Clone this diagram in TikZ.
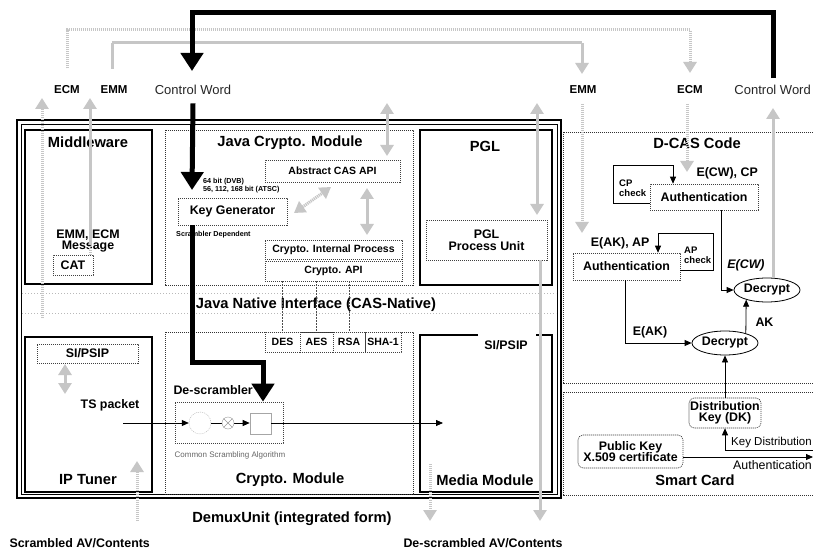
\documentclass[tikz,border=0pt]{standalone}
\usepackage{fontspec}
\setmainfont{Liberation Sans}
\usetikzlibrary{arrows.meta, shapes.geometric, positioning, calc}

\begin{document}
\begin{tikzpicture}[x=1pt, y=-1pt, >=Stealth,
    title/.style={font=\fontsize{14.7}{17}\selectfont\bfseries},
    lbl/.style={font=\fontsize{12.4}{14}\selectfont\bfseries, align=center},
    jlbl/.style={font=\fontsize{10.5}{12}\selectfont\bfseries},
    side/.style={font=\fontsize{11.5}{13}\selectfont\bfseries},
    plain/.style={font=\fontsize{12.4}{14}\selectfont},
    tinytext/.style={font=\fontsize{7.2}{7.8}\selectfont\bfseries, align=left, inner sep=0pt},
    chk/.style={font=\fontsize{9.5}{10}\selectfont\bfseries, align=left, inner sep=0pt},
    dbox/.style={draw=black!75, dash pattern=on 1.2pt off 0.8pt, line width=0.6pt, inner sep=0pt},
    frame/.style={draw=black!80, dash pattern=on 1.2pt off 0.8pt, line width=0.9pt},
    rbox/.style={dbox, rounded corners=5pt},
    modline/.style={line width=1.8pt},
    cwarrow/.style={line width=5pt, -{Triangle[width=22pt,length=18pt]}},
    flow/.style={line width=0.8pt, -{Triangle[width=6pt,length=7pt]}},
    graypath/.style={gray!45, line width=3pt, dash pattern=on 1.2pt off 0.8pt},
    grayarrow/.style={graypath, -{Triangle[width=13pt,length=11pt]}},
    graybi/.style={graypath, {Triangle[width=13pt,length=11pt]}-{Triangle[width=13pt,length=11pt]}}]

  \fill[white] (0,0) rectangle (813,553);
  \useasboundingbox (0,0) rectangle (813,553);

  % --- DemuxUnit frame (double line) ---
  \draw[line width=1.3pt] (17,120) rectangle (561,498);
  \draw[line width=0.6pt] (21,124) rectangle (557,494);

  % --- Java Native Interface band ---
  \draw[gray!55, dash pattern=on 1pt off 2pt, line width=0.7pt] (22,293) -- (556,293) (22,313) -- (556,313);
  \node[title] (jni) at (316,305) {Java Native Interface (CAS-Native)};

  % --- Module frames ---
  \draw[modline] (25,130) rectangle (152,284);
  \draw[frame] (165,130) rectangle (413,285);
  \draw[modline] (420,130) rectangle (552,285);
  \draw[modline] (25,337) rectangle (152,492);
  \draw[frame] (165,332) rectangle (413,494);
  \draw[modline] (478,335) -- (420,335) -- (420,492) -- (552,492) -- (552,335) -- (536,335);
  \draw[frame] (563,132) rectangle (830,383);
  \draw[frame] (563,392) rectangle (830,495);

  \node[title] (mwT) at (88,142) {Middleware};
  \node[title] (jcmT) at (290,143) {Java Crypto. Module};
  \node[title] (pglT) at (485,146) {PGL};
  \node[title] (ipT) at (88,480) {IP Tuner};
  \node[title] (cmT) at (290,480) {Crypto. Module};
  \node[title] (mmT) at (485,480) {Media Module};
  \node[title] (dcasT) at (697,143) {D-CAS Code};
  \node[title] (scT) at (695,480) {Smart Card};

  % --- Middleware / IP Tuner contents ---
  \node[lbl] (msg) at (88,241) {EMM, ECM\\[-3pt]Message};
  \node[dbox, lbl, minimum width=40pt, minimum height=20pt] (cat) at (73,265) {CAT};
  \node[dbox, lbl, minimum width=101pt, minimum height=19pt] (sipsip) at (87.5,353.5) {SI/PSIP};
  \node[lbl] (ts) at (110,405) {TS packet};

  % --- Java Crypto. Module contents ---
  \node[dbox, lbl, minimum width=109pt, minimum height=27pt] (keygen) at (232.5,211.5) {Key Generator};
  \node[dbox, jlbl, minimum width=135pt, minimum height=22pt] (absapi) at (332.5,171) {Abstract CAS API};
  \node[dbox, jlbl, minimum width=137pt, minimum height=19pt] (cip) at (333.5,249.5) {Crypto. Internal Process};
  \node[dbox, jlbl, minimum width=137pt, minimum height=20pt] (capi) at (333.5,271) {Crypto. API};
  \node[tinytext, anchor=south west] (bits) at (203,193) {64 bit (DVB)\\56, 112, 168 bit (ATSC)};
  \node[tinytext, anchor=north west] (scdep) at (176,231) {Scrambler Dependent};

  % --- Native algorithms ---
  \node[dbox, jlbl, minimum width=35pt, minimum height=20pt] (des) at (282.5,342) {DES};
  \node[dbox, jlbl, minimum width=33pt, minimum height=20pt] (aes) at (316.5,342) {AES};
  \node[dbox, jlbl, minimum width=32pt, minimum height=20pt] (rsa) at (349,342) {RSA};
  \node[dbox, jlbl, minimum width=36pt, minimum height=20pt] (sha) at (383,342) {SHA-1};
  \foreach \alg in {des, aes, rsa}
    \draw[black!70, dash pattern=on 1.5pt off 1.5pt, line width=0.5pt] (capi.south -| \alg.north) -- (\alg.north);

  % --- De-scrambler ---
  \node[lbl, anchor=west] (desc) at (170,390) {De-scrambler};
  \node[dbox, minimum width=108pt, minimum height=41pt] (csa) at (229,422.5) {};
  \node[draw=gray!60, dash pattern=on 1pt off 1pt, circle, minimum size=22pt, inner sep=0pt] (scr) at (200,423) {};
  \node[draw=gray!70, line width=0.6pt, minimum width=21pt, minimum height=21pt, inner sep=0pt] (sq) at (260.5,423.5) {};
  \node[font=\fontsize{8}{9}\selectfont, text=gray!80!black] (csaT) at (230,455) {Common Scrambling Algorithm};
  \coordinate (tsout) at (123,423);
  \coordinate (avout) at (443,423);
  \draw[flow] (tsout) -- (scr.west);
  \draw[flow] (scr.east) -- (sq.west |- scr.east);
  \node[draw=gray!80, fill=white, circle, minimum size=12pt, inner sep=0pt] (xor) at (228,423) {};
  \draw[gray!80, line width=0.5pt] (xor.45) -- (xor.225) (xor.135) -- (xor.315);
  \draw[flow] (sq.east |- avout) -- (avout);

  % --- Media Module label ---
  \node[lbl] (mmsi) at (506,345) {SI/PSIP};
  \node[lbl, minimum width=121pt, minimum height=40pt, dbox] (pgu) at (486.5,240) {PGL\\[-2pt]Process Unit};

  % --- D-CAS Code contents ---
  \node[dbox, lbl, minimum width=108pt, minimum height=26pt] (auth1) at (704,197) {Authentication};
  \node[dbox, lbl, minimum width=107pt, minimum height=27pt] (auth2) at (626.5,266.5) {Authentication};
  \node[ellipse, draw, line width=0.8pt, lbl, minimum width=66pt, minimum height=24pt, inner sep=0pt] (dec1) at (767,290) {Decrypt};
  \node[ellipse, draw, line width=0.8pt, lbl, minimum width=66pt, minimum height=24pt, inner sep=0pt] (dec2) at (725,343) {Decrypt};
  \node[lbl, anchor=west] (ecwcp) at (693,173) {E(CW), CP};
  \node[lbl, anchor=east] (eakap) at (653,243) {E(AK), AP};
  \node[chk, anchor=north west] (cpchk) at (619,180) {CP\\check};
  \node[chk, anchor=north west] (apchk) at (684,247) {AP\\check};
  \node[lbl, font=\fontsize{12.4}{14}\selectfont\bfseries\itshape] (ecw) at (746,265) {E(CW)};
  \node[lbl] (eak) at (650,332) {E(AK)};
  \node[lbl, anchor=west] (ak) at (752,322) {AK};

  \draw[flow] (auth1.west |- 0,203) -- (613,203) |- (673,165) -- (auth1.north -| 673,0);
  \draw[flow] (auth2.east |- 0,270) -- (713,270) |- (658,233) -- (auth2.north -| 658,0);
  \draw[flow] (auth1.south -| 721,0) |- (dec1.west);
  \draw[flow] (auth2.south -| 625,0) |- (dec2.west);
  \draw[flow] (dec2.25) -- (dec1.-155);

  % --- Smart Card contents ---
  \node[rbox, lbl, minimum width=72pt, minimum height=30pt] (dk) at (725,413) {Distribution\\[-3pt]Key (DK)};
  \node[rbox, lbl, minimum width=105pt, minimum height=33pt] (pk) at (630.5,451.5) {Public Key\\[-3pt]X.509 certificate};
  \coordinate (kdin) at (813,450);
  \coordinate (authout) at (813,457);
  \draw[flow] (dk.north) -- (dec2.south);
  \draw[flow] (kdin) -| (dk.south);
  \draw[flow] (pk.east |- authout) -- (authout);
  \node[plain, font=\fontsize{11.5}{13}\selectfont, anchor=south west, inner sep=1pt] (kdT) at (730,449) {Key Distribution};
  \node[plain, anchor=north east, inner sep=1pt] (authT) at (813,459) {Authentication};

  % --- Labels outside the frame ---
  \node[side] (ecmL) at (67,90) {ECM};
  \node[side] (emmL) at (114,90) {EMM};
  \node[plain, text=black!85, font=\fontsize{13}{15}\selectfont] (cwL) at (193,90) {Control Word};
  \node[side] (emmR) at (583,90) {EMM};
  \node[side] (ecmR) at (690,90) {ECM};
  \node[plain, text=black!85, font=\fontsize{13}{15}\selectfont, anchor=east, inner sep=1pt] (cwR) at (812,90) {Control Word};
  \node[title] (demux) at (292,519) {DemuxUnit (integrated form)};
  \node[lbl, anchor=west] (scrav) at (6,543) {Scrambled AV/Contents};
  \node[lbl, anchor=west] (descav) at (400,543) {De-scrambled AV/Contents};

  % --- Grey message flows ---
  \draw[grayarrow] (42,318) -- (42,98);
  \draw[grayarrow] (cat.north -| 90,0) -- (90,98);
  \draw[grayarrow] ([yshift=14pt]ecmL.north) |- (690,30) -- (690,73);
  \draw[grayarrow] ([yshift=14pt]emmL.north -| 112,0) |- (582,43) -- (582,74);
  \draw[grayarrow] (582,104) -- (582,233);
  \draw[grayarrow] (687,104) -- (687,172);
  \draw[grayarrow] (dec1.north -| 773,0) -- (773,108);
  \draw[graybi] (387,156) -- (387,103);
  \draw[graybi] (294,213) -- (331,187);
  \draw[graybi] (367,188) -- (367,235);
  \draw[graybi] (537,103) -- (537,215);
  \draw[grayarrow] (pgu.south -| 540,0) -- (540,521);
  \draw[grayarrow] (430,464) -- (430,521);
  \draw[grayarrow] (137,521) -- (137,461);
  \draw[graybi] (65,364) -- (65,394);

  % --- Control Word path (thick) ---
  \draw[cwarrow] ([yshift=6pt]cwR.north -| 773,0) |- (192,13) -- (192,71);
  \draw[cwarrow] ([yshift=-5pt]cwL.south) -- (192,190);
  \draw[cwarrow] (keygen.south -| 192,0) |- (263,362) -- (csa.north -| 263,0);

\end{tikzpicture}
\end{document}
